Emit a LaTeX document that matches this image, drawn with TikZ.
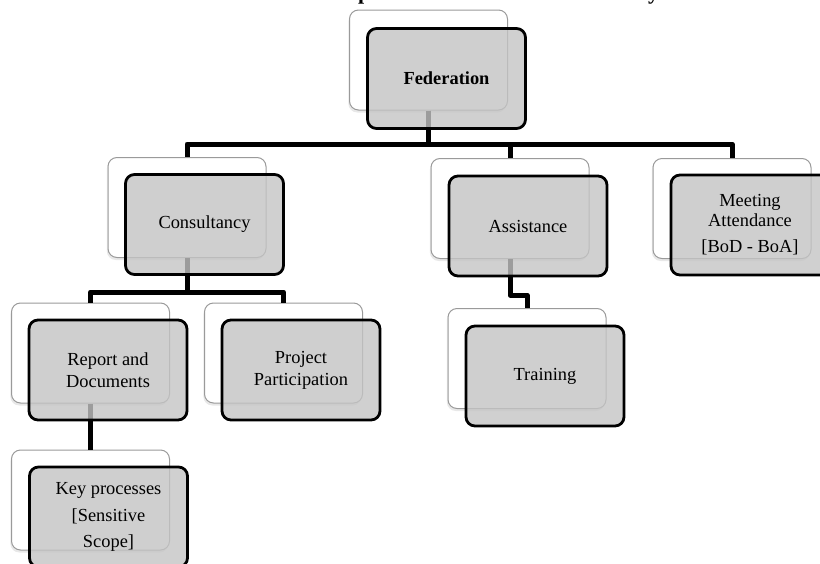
\documentclass[tikz,border=0pt]{standalone}
\usepackage{fontspec}
\setmainfont{Liberation Serif}
\usetikzlibrary{shadows}
\definecolor{boxgrey}{HTML}{C4C4C4}
\definecolor{backedge}{HTML}{9A9A9A}
\begin{document}
\begin{tikzpicture}[x=1pt,y=-1pt,
  backbox/.style={draw=backedge, line width=1pt, fill=white, rounded corners=9pt,
    minimum width=158pt, minimum height=100pt, inner sep=0pt,
    drop shadow={opacity=0.18, shadow xshift=-1.2pt, shadow yshift=-2.5pt}},
  frontbox/.style={draw=black, line width=2.8pt, fill=boxgrey, fill opacity=0.8,
    text opacity=1, rounded corners=9pt, minimum width=158pt, minimum height=100pt,
    inner sep=0pt, align=center, font=\fontsize{18.4}{22}\selectfont},
  conn/.style={draw=black, line width=5pt, line join=round},
  titlefrag/.style={font=\fontsize{22}{26}\selectfont\bfseries, anchor=base west, inner sep=0pt}
]
\useasboundingbox (0,0) rectangle (820,563);
\clip (0,0) rectangle (820,563);

% cut-off title fragments
\node[titlefrag] (titleP) at (358,-1) {p};
\node[titlefrag] (titleY) at (648,-1) {y};

% back (white) boxes
\node[backbox] (wFed)   at (428.5,60) {};
\node[backbox] (wCons)  at (187,207.5) {};
\node[backbox] (wAss)   at (510,208.5) {};
\node[backbox] (wMeet)  at (732,208.5) {};
\node[backbox] (wRep)   at (90.5,353) {};
\node[backbox] (wProj)  at (283.5,353) {};
\node[backbox] (wTrain) at (527,358.5) {};
\node[backbox] (wKey)   at (90.5,500) {};

% connectors
\coordinate (bus1) at (0,144);
\coordinate (bus2) at (0,292);
\coordinate (bus3) at (0,295);
\draw[conn] (wFed.south) |- (wCons.north |- bus1) -- (wCons.north);
\draw[conn] (wFed.south) |- (wAss.north |- bus1) -- (wAss.north);
\draw[conn] (wFed.south) |- (wMeet.north |- bus1) -- (wMeet.north);
\draw[conn] (wCons.south) |- (wRep.north |- bus2) -- (wRep.north);
\draw[conn] (wCons.south) |- (wProj.north |- bus2) -- (wProj.north);
\draw[conn] (wRep.south) -- (wKey.north);
\draw[conn] (wAss.south) |- (wTrain.north |- bus3) -- (wTrain.north);

% front (grey) boxes
\node[frontbox, font=\fontsize{18.4}{22}\selectfont\bfseries] (gFed) at (446.5,78.5) {Federation};
\node[frontbox] (gCons)  at (204.5,224.5) {Consultancy};
\node[frontbox] (gAss)   at (528,226) {Assistance};
\node[frontbox, font=\fontsize{18.4}{20}\selectfont] (gMeet) at (750,225) {Meeting\\Attendance\\[6pt]{[BoD - BoA]}};
\node[frontbox] (gRep)   at (108,370) {Report and\\Documents};
\node[frontbox] (gProj)  at (301,370) {Project\\Participation};
\node[frontbox] (gTrain) at (545,376) {Training};
\node[frontbox, font=\fontsize{18.4}{26.5}\selectfont] (gKey) at (108.5,517) {Key processes\\{[Sensitive}\\Scope]};
\end{tikzpicture}
\end{document}
